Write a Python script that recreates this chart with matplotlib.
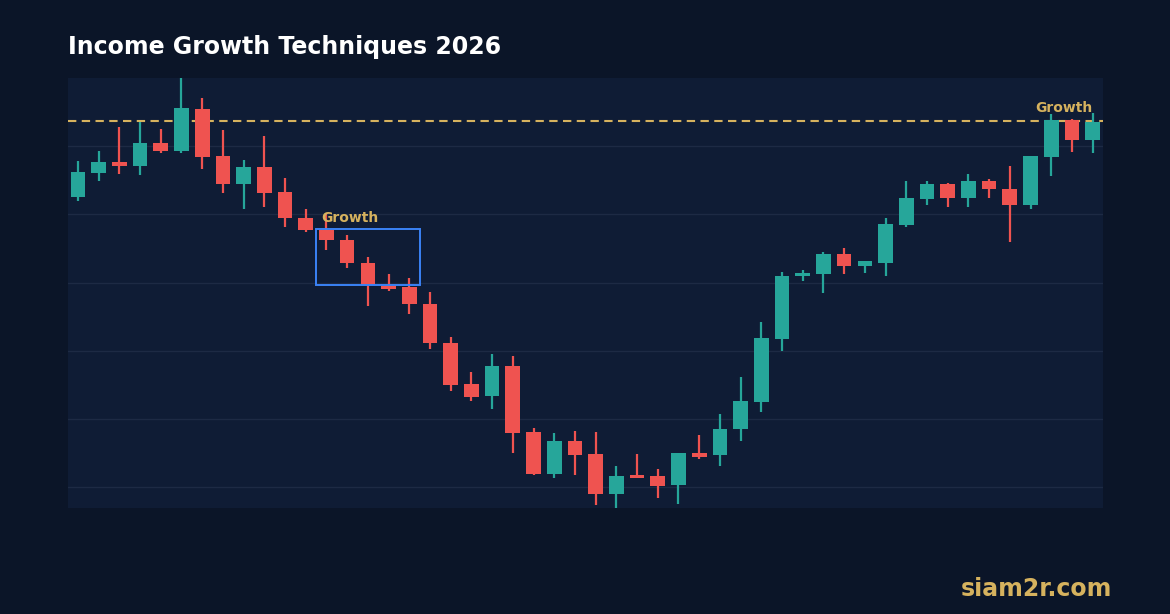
import matplotlib
matplotlib.use("Agg")
import matplotlib.pyplot as plt
from matplotlib.patches import Rectangle

# OHLC values (arbitrary price units)
opens = [142.6, 146.1, 147.6, 147.0, 150.5, 149.2, 155.4, 148.5, 144.5, 146.9,
         143.2, 139.5, 137.7, 136.3, 132.9, 129.5, 129.4, 126.9, 121.2, 115.1,
         113.4, 117.8, 108.1, 101.9, 106.8, 104.9, 99.1, 101.7, 101.7, 100.3,
         105.0, 104.7, 108.5, 112.5, 121.8, 131.0, 131.2, 134.2, 132.4, 132.9,
         138.4, 142.3, 144.5, 142.4, 144.9, 143.7, 141.4, 148.4, 153.8, 150.9]
highs = [147.8, 149.2, 152.8, 153.5, 152.5, 159.9, 157.1, 152.4, 147.9, 151.5,
         145.3, 140.7, 140.1, 136.9, 133.8, 131.2, 130.6, 128.6, 122.0, 116.9,
         119.5, 119.3, 108.7, 107.9, 108.3, 108.1, 103.2, 104.9, 102.7, 105.1,
         107.7, 110.8, 116.1, 124.2, 131.6, 131.9, 134.4, 135.1, 133.2, 139.5,
         144.8, 144.9, 144.6, 145.9, 145.2, 147.1, 148.6, 154.7, 153.9, 154.9]
lows = [141.9, 144.8, 145.9, 145.8, 148.9, 148.9, 146.7, 143.1, 140.8, 141.0,
        138.1, 137.4, 134.7, 132.1, 126.6, 128.8, 125.4, 120.3, 114.1, 112.7,
        111.5, 105.1, 101.8, 101.4, 101.8, 97.4, 97.0, 101.3, 98.4, 97.6,
        104.1, 103.2, 106.8, 111.1, 120.0, 130.2, 128.4, 131.2, 131.4, 130.9,
        138.1, 141.4, 141.0, 141.0, 142.4, 135.9, 140.8, 145.6, 149.1, 148.9]
closes = [146.2, 147.6, 147.0, 150.5, 149.2, 155.5, 148.4, 144.5, 146.9, 143.1,
          139.4, 137.7, 136.3, 132.8, 129.7, 129.1, 126.8, 121.1, 115.0, 113.3,
          117.8, 108.0, 101.9, 106.8, 104.8, 99.1, 101.7, 101.3, 100.2, 105.0,
          104.5, 108.6, 112.6, 121.9, 131.0, 131.4, 134.2, 132.4, 133.1, 138.5,
          142.4, 144.5, 142.4, 144.9, 143.7, 141.4, 148.5, 153.8, 150.9, 153.5]

resistance = 153.6
label_text = "Growth"
title = "Income Growth Techniques 2026"
watermark = "siam2r.com"

UP = "#26a69a"
DOWN = "#ef5350"
GOLD = "#d6b25e"
FIG_BG = "#0b1528"
AX_BG = "#0f1c35"
GRID = "#1d2a44"
BOX = "#3b82f6"
FONT = ["DejaVu Sans"]

fig = plt.figure(figsize=(11.7, 6.14), dpi=100, facecolor=FIG_BG)
ax = fig.add_axes([68 / 1170, 1 - 507.5 / 614, (1103 - 68) / 1170, (507.5 - 77.7) / 614])
ax.set_facecolor(AX_BG)

n = len(opens)
xs = list(range(n))
colors = [UP if c >= o else DOWN for o, c in zip(opens, closes)]
bottoms = [min(o, c) for o, c in zip(opens, closes)]
heights = [max(abs(c - o), 0.45) for o, c in zip(opens, closes)]

ax.vlines(xs, lows, highs, colors=colors, linewidth=1.6, zorder=3)
ax.bar(xs, heights, bottom=bottoms, width=0.71, color=colors, linewidth=0, zorder=4)

ax.axhline(resistance, color=GOLD, linestyle=(0, (4, 2.6)), linewidth=1.5, zorder=2)

ax.add_patch(Rectangle((11.5, 129.6), 5.03, 8.2, fill=False, edgecolor=BOX,
                       linewidth=1.4, zorder=5))

ax.text(11.75, 139.5, label_text, color=GOLD, fontsize=10, fontweight="bold",
        family=FONT, ha="left", va="center", zorder=6)
ax.text(49.0, 155.6, label_text, color=GOLD, fontsize=10, fontweight="bold",
        family=FONT, ha="right", va="center", zorder=6)

ax.set_xlim(-0.48, 49.5)
ax.set_ylim(97.05, 160.0)
ax.set_yticks([100, 110, 120, 130, 140, 150])
ax.yaxis.grid(True, color=GRID, linewidth=1.0)
ax.set_axisbelow(True)
ax.tick_params(left=False, bottom=False, labelleft=False, labelbottom=False)
for s in ax.spines.values():
    s.set_visible(False)

fig.text(68 / 1170, 1 - 47 / 614, title, color="white", fontsize=17,
         fontweight="bold", family=FONT, ha="left", va="center")
fig.text(1112 / 1170, 1 - 589 / 614, watermark, color=GOLD, fontsize=17,
         fontweight="bold", family=FONT, ha="right", va="center")

fig.savefig("out.png", dpi=100, facecolor=FIG_BG)
